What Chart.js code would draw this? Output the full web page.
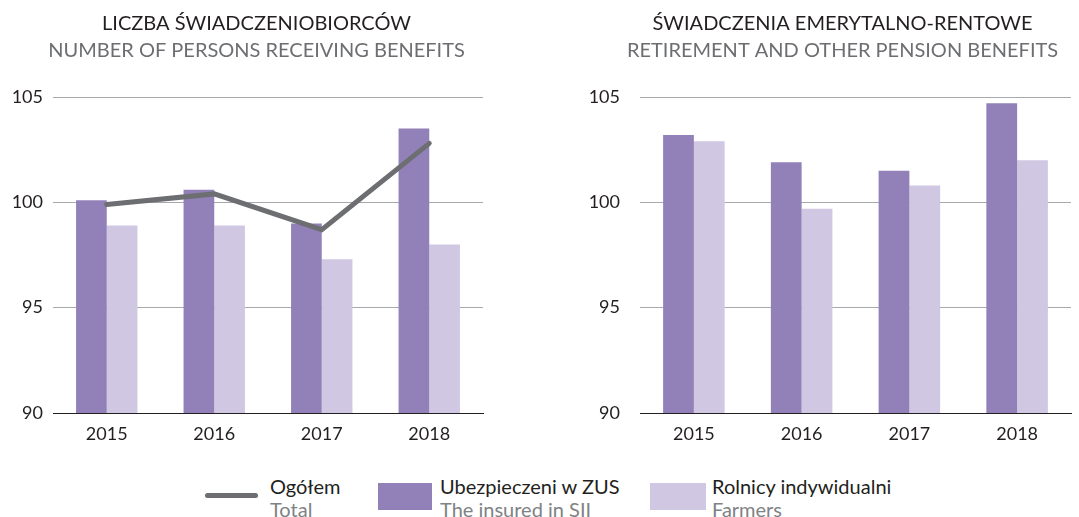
<!DOCTYPE html>
<html>
<head>
<meta charset="utf-8">
<script src="https://cdn.jsdelivr.net/npm/chart.js@4"></script>
<style>
  html, body { margin:0; padding:0; background:#fff; width:1079px; height:517px; overflow:hidden; position:relative; }
  canvas { position:absolute; }
  #c1 { left:0; top:0; }
  #c2 { left:560px; top:0; }
  .lg { position:absolute; font-family:Lato, "Open Sans", sans-serif; font-size:20px; line-height:23px; white-space:nowrap; }
  .lg .en { color:#808285; }
  .lg .pl { color:#231f20; }
  .sw { position:absolute; }
</style>
</head>
<body>
<canvas id="c1" width="514" height="450"></canvas>
<canvas id="c2" width="566" height="450"></canvas>
<div id="legend"></div>
<script>
// ---- data ----
const categories = ['2015', '2016', '2017', '2018'];
const yTicks = [90, 95, 100, 105];

const beneficiariesTotal   = [99.9, 100.4, 98.7, 102.8];
const beneficiariesZUS     = [100.1, 100.6, 99.0, 103.5];
const beneficiariesFarmers = [98.9, 98.9, 97.3, 98.0];

const pensionsZUS     = [103.2, 101.9, 101.5, 104.7];
const pensionsFarmers = [102.9, 99.7, 100.8, 102.0];

const titleLeftPL  = 'LICZBA ŚWIADCZENIOBIORCÓW';
const titleLeftEN  = 'NUMBER OF PERSONS RECEIVING BENEFITS';
const titleRightPL = 'ŚWIADCZENIA EMERYTALNO-RENTOWE';
const titleRightEN = 'RETIREMENT AND OTHER PENSION BENEFITS';

const seriesPL = ['Ogółem', 'Ubezpieczeni w ZUS', 'Rolnicy indywidualni'];
const seriesEN = ['Total', 'The insured in SII', 'Farmers'];

// ---- styles ----
const C_TOTAL = '#6d6e71';
const C_ZUS = '#9281b8';
const C_FARM = '#d0c7e2';
const FONT = 'Lato, "Open Sans", sans-serif';

// shifts the title/subtitle boxes horizontally after layout
const titleShiftPlugin = {
  id: 'titleShift',
  afterLayout(chart, args, opts) {
    const dx = opts.dx || 0;
    chart.boxes.forEach(b => {
      if (b.options && typeof b.options.text === 'string' && b.options.position === 'top' && !b.axis) {
        b.left += dx; b.right += dx;
      }
    });
  }
};

function makeChart(id, titlePL, titleEN, datasets, yAxisWidth, yPad, padRight, dx) {
  return new Chart(document.getElementById(id), {
    data: { labels: categories, datasets: datasets },
    plugins: [titleShiftPlugin],
    options: {
      responsive: false,
      animation: false,
      layout: { padding: { left: 0, right: padRight, top: 0, bottom: 5 } },
      plugins: {
        titleShift: { dx: dx },
        legend: { display: false },
        tooltip: { enabled: false },
        title: {
          display: true, text: titlePL, color: '#231f20',
          font: { family: FONT, size: 20, weight: 'normal', lineHeight: 1.2 },
          padding: { top: 12, bottom: 3 }
        },
        subtitle: {
          display: true, text: titleEN, color: '#6d6e71',
          font: { family: FONT, size: 20, weight: 'normal', lineHeight: 1.2 },
          padding: { top: 0, bottom: 34 }
        }
      },
      scales: {
        x: {
          grid: { display: false, drawTicks: false },
          border: { display: true, color: '#231f20', width: 1 },
          ticks: { color: '#231f20', font: { family: FONT, size: 18 }, padding: 10 },
          afterFit: s => { s.height = 32; }
        },
        y: {
          min: 90, max: 105,
          afterBuildTicks: s => { s.ticks = yTicks.map(v => ({ value: v })); },
          grid: {
            drawTicks: false,
            color: c => (c.tick && c.tick.value === 90) ? '#231f20' : '#a7a9ac',
            lineWidth: 1
          },
          border: { display: false },
          ticks: { color: '#231f20', font: { family: FONT, size: 18 }, padding: yPad },
          afterFit: s => { s.width = yAxisWidth; }
        }
      }
    }
  });
}

const barOpts = { categoryPercentage: 0.571, barPercentage: 1.0, borderWidth: 0 };

makeChart('c1', titleLeftPL, titleLeftEN, [
  { type: 'line', label: seriesPL[0], data: beneficiariesTotal, borderColor: C_TOTAL, backgroundColor: C_TOTAL,
    borderWidth: 5, pointRadius: 0, tension: 0, order: 0, borderCapStyle: 'round', borderJoinStyle: 'miter' },
  Object.assign({ type: 'bar', label: seriesPL[1], data: beneficiariesZUS, backgroundColor: C_ZUS, order: 1 }, barOpts),
  Object.assign({ type: 'bar', label: seriesPL[2], data: beneficiariesFarmers, backgroundColor: C_FARM, order: 1 }, barOpts)
], 53, 10, 31, 15);

makeChart('c2', titleRightPL, titleRightEN, [
  Object.assign({ type: 'bar', label: seriesPL[1], data: pensionsZUS, backgroundColor: C_ZUS }, barOpts),
  Object.assign({ type: 'bar', label: seriesPL[2], data: pensionsFarmers, backgroundColor: C_FARM }, barOpts)
], 80, 20, 55, 27);

// ---- legend (HTML) ----
const legend = document.getElementById('legend');
const swatches = [
  { left: 205, top: 493, w: 53, h: 5, color: C_TOTAL, radius: 3, textLeft: 270 },
  { left: 378, top: 483, w: 54, h: 27, color: C_ZUS, radius: 0, textLeft: 440 },
  { left: 650, top: 483, w: 56, h: 27, color: C_FARM, radius: 0, textLeft: 712 }
];
swatches.forEach((s, i) => {
  const sw = document.createElement('div');
  sw.className = 'sw';
  sw.style.cssText = `left:${s.left}px;top:${s.top}px;width:${s.w}px;height:${s.h}px;background:${s.color};border-radius:${s.radius}px;`;
  legend.appendChild(sw);
  const t = document.createElement('div');
  t.className = 'lg';
  t.style.left = s.textLeft + 'px';
  t.style.top = '475px';
  t.innerHTML = `<div class="pl">${seriesPL[i]}</div><div class="en">${seriesEN[i]}</div>`;
  legend.appendChild(t);
});
</script>
</body>
</html>
